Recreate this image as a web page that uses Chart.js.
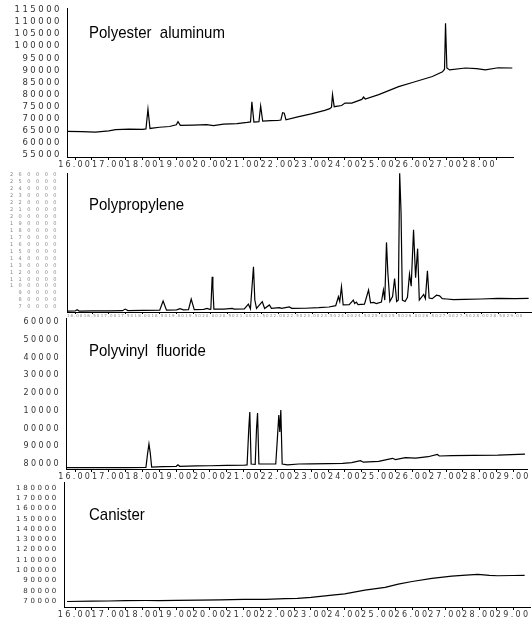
<!DOCTYPE html>
<html>
<head>
<meta charset="utf-8">
<script src="https://cdn.jsdelivr.net/npm/chart.js"></script>
<style>
  html, body { margin: 0; padding: 0; background: #fff; }
  #page { position: relative; width: 532px; height: 619px; overflow: hidden; }
  .panel { position: absolute; left: 0; width: 532px; }
  .name { position: absolute; left: 89px; font-family: "Liberation Sans", Arial, sans-serif; font-size: 15px;
          line-height: 1; color: #000; white-space: pre; transform: scaleY(1.12); transform-origin: 0 0; }
</style>
</head>
<body>
<div id="page">
  <div class="panel" style="top:0px;height:172px"><canvas id="polyester"></canvas></div>
  <div class="panel" style="top:165px;height:155px"><canvas id="polypropylene"></canvas></div>
  <div class="panel" style="top:315px;height:165px"><canvas id="polyvinyl"></canvas></div>
  <div class="panel" style="top:478px;height:141px"><canvas id="canister"></canvas></div>
  <div class="name" style="top:23px">Polyester  aluminum</div>
  <div class="name" style="top:195px">Polypropylene</div>
  <div class="name" style="top:341px">Polyvinyl  fluoride</div>
  <div class="name" style="top:505px">Canister</div>
</div>
<script>
// retention time (min) and abundance
var polyesterTime = [15.76,16.2,16.6,17.0,17.2,17.6,18.0,18.1,18.16,18.22,18.5,18.8,19.0,19.05,19.12,19.5,19.9,20.1,20.4,20.8,
  21.1,21.2,21.24,21.3,21.45,21.5,21.56,21.8,22.0,22.1,22.15,22.2,22.25,22.6,23.0,23.4,23.55,23.6,23.63,23.68,23.9,24.0,
  24.2,24.5,24.55,24.6,25.0,25.59,26.0,26.59,26.89,26.95,26.98,27.02,27.1,27.57,27.9,28.16,28.54,28.96];
var polyesterSignal = [64800,64700,64500,65000,65500,65700,65600,65800,74000,66000,66500,66800,67500,68800,67300,67400,67600,67200,67800,68000,
  68500,68700,77000,68600,68800,75300,69000,69200,69300,69500,72500,72300,69600,70800,72000,73500,74200,74800,80000,75000,75500,76500,
  76500,78000,79000,78200,80000,83300,85000,87500,89400,90500,109500,91000,90200,91000,90700,90200,91100,91000];

var propyleneTime = [15.76,16.0,16.06,16.12,16.5,17.0,17.4,17.48,17.56,18.0,18.5,18.6,18.7,19.0,19.1,19.2,19.35,19.43,19.52,19.8,
  19.9,19.98,20.01,20.05,20.07,20.1,20.4,20.64,20.7,21.0,21.12,21.18,21.27,21.31,21.36,21.53,21.6,21.74,21.8,22.04,
  22.1,22.33,22.4,22.8,23.2,23.5,23.7,23.78,23.82,23.87,23.92,24.1,24.22,24.26,24.31,24.36,24.55,24.67,24.73,24.82,
  24.9,25.05,25.11,25.15,25.2,25.24,25.3,25.38,25.44,25.5,25.55,25.59,25.63,25.67,25.75,25.82,25.88,25.93,26.0,26.06,
  26.12,26.17,26.3,26.35,26.41,26.46,26.55,26.68,26.77,26.85,26.98,27.18,27.5,28.0,28.5,29.0,29.4];
var propyleneSignal = [64000,64200,66000,64200,64300,64500,64700,67000,64800,65000,65300,78600,65500,65800,67500,65900,66200,81500,66300,66500,
  68000,66600,66800,113600,99000,67000,67000,68000,67000,67200,74000,67500,128000,80000,68000,77600,67800,73000,68000,69000,
  68000,70000,68000,68200,69000,70000,72000,84800,78000,99200,73000,73500,80000,75000,77000,73500,74000,94500,76000,76500,
  75000,77000,94500,80000,163000,120000,78000,85000,111000,78000,80000,262500,207000,80000,78000,84000,117500,100000,181000,112000,
  154000,80000,88000,82000,122000,83000,82000,87000,86000,82000,81500,80500,81000,81500,82500,82000,82500];

var vinylTime = [15.76,16.5,17.5,18.1,18.15,18.19,18.23,18.27,18.6,19.0,19.05,19.1,19.6,20.0,20.5,21.0,21.1,21.15,21.18,21.22,
  21.34,21.38,21.41,21.45,21.95,22.0,22.04,22.07,22.1,22.14,22.3,22.63,23.0,23.5,23.93,24.2,24.46,24.55,25.0,25.41,
  25.5,25.79,26.1,26.47,26.74,26.8,27.18,27.8,28.54,29.34];
var vinylSignal = [78000,77900,78000,78100,86000,91300,86000,78300,78500,78700,79500,78700,78900,79000,79200,79300,79500,100000,109300,80000,
  79800,100000,108700,80000,80000,95000,107600,98000,110400,80000,79500,80000,80100,80200,80400,80800,81900,81000,81500,83200,
  82500,83600,83300,84100,85400,84500,84700,84800,85000,85600];

var canisterTime = [15.76,16.5,17.0,17.5,18.1,18.5,19.0,19.7,20.3,21.0,21.65,22.24,22.6,23.0,23.63,24.0,24.6,25.2,25.59,26.0,
  26.59,27.18,27.6,27.95,28.3,28.54,29.0,29.34];
var canisterSignal = [69500,69800,70000,70300,70500,70400,70600,70800,71000,71500,71500,72300,72600,73500,75800,77000,80500,83300,86500,89000,
  92000,94300,95200,95900,95000,94600,94800,95000];

// tick values printed on each axis
var polyesterTicks = [55000,60000,65000,70000,75000,80000,85000,90000,95000,100000,105000,110000,115000];
var propyleneTicks = [70000,80000,90000,100000,110000,120000,130000,140000,150000,160000,170000,180000,190000,
  200000,210000,220000,230000,240000,250000,260000];
var vinylTicks = [80000,90000,100000,110000,120000,130000,140000,150000,160000];
var canisterTicks = [70000,80000,90000,100000,110000,120000,130000,140000,150000,160000,170000,180000];
var minuteTicks = [16,16.5,17,17.5,18,18.5,19,19.5,20,20.5,21,21.5,22,22.5,23,23.5,24,24.5,25,25.5,26,26.5,27,27.5,28,28.5,29];

// letter spacing per axis (the instrument print uses very wide digits)
var spacingPlugin = {
  id: 'spacing',
  beforeDraw: function(chart, args, opts) {
    Object.values(chart.scales).forEach(function(s) {
      if (s._spaced) return;
      var orig = s.drawLabels.bind(s);
      s.drawLabels = function(area) {
        chart.ctx.save();
        chart.ctx.letterSpacing = (opts[s.id] || 0) + 'px';
        orig(area);
        chart.ctx.restore();
      };
      s._spaced = true;
    });
  }
};

function points(t, v) {
  return t.map(function(x, i) { return {x: x, y: v[i]}; });
}

function wholeMinutes(v) {
  return Math.abs(v - Math.round(v)) < 1e-6 ? v.toFixed(2) : '';
}

function panel(id, t, v, o) {
  var xt = minuteTicks.filter(function(m) { return m >= o.xmin && m <= o.xmax; });
  new Chart(document.getElementById(id), {
    type: 'line',
    data: { datasets: [{ data: points(t, v), borderColor: '#000', borderWidth: 1.2, pointRadius: 0, tension: 0, fill: false }] },
    plugins: [spacingPlugin],
    options: {
      responsive: true,
      maintainAspectRatio: false,
      animation: false,
      layout: { padding: { top: o.top, right: o.right, left: 0, bottom: 0 } },
      plugins: { legend: { display: false }, tooltip: { enabled: false }, spacing: o.spacing },
      scales: {
        x: {
          type: 'linear', min: o.xmin, max: o.xmax,
          grid: { display: true, drawOnChartArea: false, drawTicks: true, tickLength: o.tick, color: '#000' },
          border: { display: true, color: '#000', width: 1 },
          ticks: { autoSkip: false, maxRotation: 0, minRotation: 0, padding: o.xpad,
                   color: o.xcolor, font: { family: 'DejaVu Sans', size: o.xsize }, callback: o.xlabel },
          afterBuildTicks: function(s) { s.ticks = xt.map(function(m) { return {value: m}; }); },
          afterFit: function(s) { s.height = o.xheight; s.paddingLeft = 0; s.paddingRight = 0; }
        },
        y: {
          min: o.ymin, max: o.ymax,
          grid: { display: false },
          border: { display: true, color: '#000', width: 1 },
          ticks: { autoSkip: false, padding: -3,
                   color: o.ycolor, font: { family: 'DejaVu Sans', size: o.ysize }, callback: o.ylabel },
          afterBuildTicks: function(s) { s.ticks = o.yticks.map(function(n) { return {value: n}; }); },
          afterFit: function(s) { s.width = o.left; s.paddingTop = 0; s.paddingBottom = 0; }
        }
      }
    }
  });
}

panel('polyester', polyesterTime, polyesterSignal, {
  top: 8, right: 19, left: 67, xheight: 15, xmin: 15.76, xmax: 28.98, ymin: 54200, ymax: 115800, yticks: polyesterTicks,
  tick: 3, xpad: 0, xsize: 8, ysize: 8.5, xcolor: '#333', ycolor: '#333', spacing: { x: 2.2, y: 2.5 },
  xlabel: wholeMinutes, ylabel: function(v) { return String(v); }
});

panel('polypropylene', propyleneTime, propyleneSignal, {
  top: 8, right: 0, left: 67, xheight: 8, xmin: 15.76, xmax: 29.5, ymin: 62800, ymax: 262900, yticks: propyleneTicks,
  tick: 2, xpad: 0, xsize: 4, ysize: 5, xcolor: '#888', ycolor: '#888', spacing: { x: 1, y: 5.5 },
  xlabel: function(v) { return v.toFixed(2); }, ylabel: function(v) { return String(v); }
});

panel('polyvinyl', vinylTime, vinylSignal, {
  top: 3, right: 5, left: 66, xheight: 11, xmin: 15.73, xmax: 29.4, ymin: 77180, ymax: 162250, yticks: vinylTicks,
  tick: 3, xpad: 0, xsize: 8, ysize: 8, xcolor: '#333', ycolor: '#333', spacing: { x: 2.2, y: 2.4 },
  xlabel: wholeMinutes, ylabel: function(v) { return String(v).slice(-5); }
});

panel('canister', canisterTime, canisterSignal, {
  top: 4, right: 2, left: 64, xheight: 12, xmin: 15.67, xmax: 29.5, ymin: 64160, ymax: 185840, yticks: canisterTicks,
  tick: 3, xpad: 0, xsize: 8, ysize: 7, xcolor: '#333', ycolor: '#333', spacing: { x: 2.4, y: 2.7 },
  xlabel: wholeMinutes, ylabel: function(v) { return String(v); }
});
</script>
</body>
</html>
